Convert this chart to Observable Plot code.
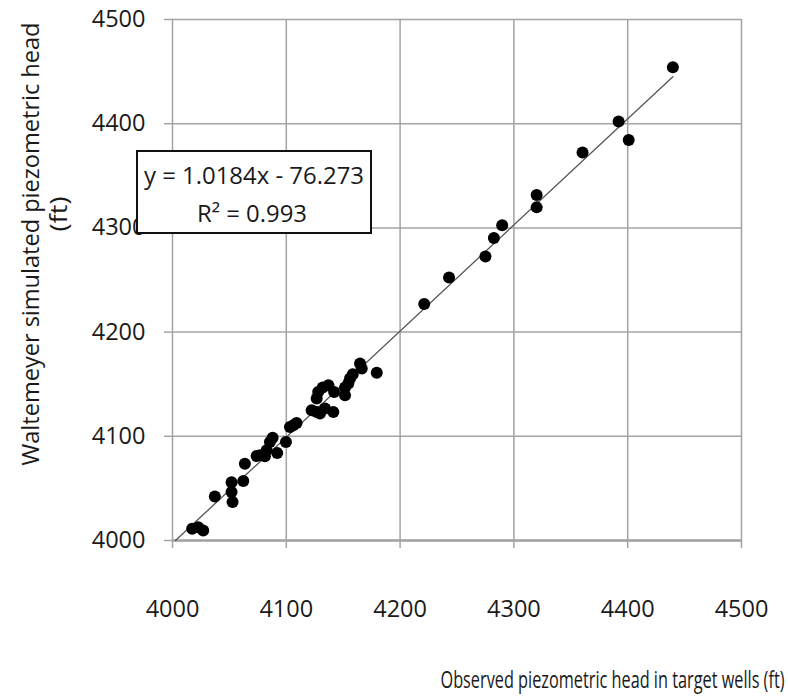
<!DOCTYPE html>
<html><head><meta charset="utf-8">
<script src="https://cdn.jsdelivr.net/npm/d3@7"></script>
<script src="https://cdn.jsdelivr.net/npm/@observablehq/plot@0.6"></script>
<style>
body{margin:0;background:#fff}
#chart{position:relative;width:788px;height:698px}
</style>
</head><body><div id="chart"></div>
<script>
// Observed piezometric head in target wells (ft)
const observed = [
  4017.3, 4022.6, 4027.0, 4037.2, 4051.9, 4051.9, 4052.8, 4062.2, 4063.6, 4073.9,
  4076.8, 4081.2, 4082.7, 4085.6, 4088.0, 4092.0, 4099.7, 4103.2, 4106.2, 4109.0,
  4122.3, 4126.7, 4129.6, 4134.0, 4141.3, 4126.7, 4128.0, 4132.0, 4137.0, 4142.0,
  4151.6, 4151.6, 4154.5, 4156.0, 4158.4, 4164.8, 4166.3, 4179.5,
  4221.2, 4243.0, 4275.0, 4282.4, 4289.7, 4320.0, 4320.0, 4360.3, 4392.0, 4400.9, 4439.7
];
// Waltemeyer simulated piezometric head (ft)
const simulated = [
  4011.2, 4012.8, 4009.6, 4042.3, 4056.0, 4046.5, 4036.9, 4057.0, 4073.7, 4081.0,
  4081.7, 4080.8, 4086.5, 4094.6, 4098.7, 4084.0, 4094.6, 4109.0, 4110.6, 4112.8,
  4125.0, 4123.4, 4121.8, 4126.6, 4123.4, 4136.2, 4142.6, 4146.8, 4149.0, 4142.6,
  4139.4, 4146.8, 4150.6, 4155.4, 4159.6, 4169.9, 4165.0, 4160.9,
  4227.0, 4252.5, 4272.6, 4290.4, 4302.5, 4331.5, 4319.7, 4372.3, 4402.2, 4384.4, 4454.1
];
const xTicks = [4000, 4100, 4200, 4300, 4400, 4500];
const yTicks = [4000, 4100, 4200, 4300, 4400, 4500];
const slope = 1.0184, intercept = -76.273, r2 = 0.993;
const xTitle = "Observed piezometric head in target wells (ft)";
const yTitle1 = "Waltemeyer simulated piezometric head";
const yTitle2 = "(ft)";
const eqLine1 = "y = 1.0184x - 76.273";
const eqLine2 = "R\u00b2 = 0.993";

const points = observed.map((x, i) => ({x, y: simulated[i]}));
const yMin = d3.min(yTicks);
const xStart = (yMin - intercept) / slope;
const xEnd = d3.max(observed);
const trend = [xStart, xEnd].map(x => ({x, y: slope * x + intercept}));

const FONT = "'Open Sans', 'Liberation Sans', sans-serif";
const GRID = "#a3a3a3";

const chart = Plot.plot({
  width: 788,
  height: 698,
  marginLeft: 172,
  marginRight: 47,
  marginTop: 19,
  marginBottom: 158,
  style: {fontFamily: FONT, fontSize: "23.5px", color: "#1a1a1a", background: "#fff", overflow: "visible"},
  x: {domain: [4000, 4500]},
  y: {domain: [4000, 4500]},
  marks: [
    Plot.gridX(xTicks, {stroke: GRID, strokeOpacity: 1, strokeWidth: 1.5}),
    Plot.gridY(yTicks, {stroke: GRID, strokeOpacity: 1, strokeWidth: 1.5}),
    Plot.ruleY([yMin], {stroke: GRID, strokeWidth: 2.5}),
    Plot.axisX({ticks: xTicks, tickSize: 8, tickPadding: 52, stroke: GRID, strokeWidth: 1.5, fill: "#1a1a1a",
      tickFormat: d => String(d), label: null, fontSize: 23.5}),
    Plot.axisY({ticks: yTicks, tickSize: 8, tickPadding: 19, stroke: GRID, strokeWidth: 1.5, fill: "#1a1a1a",
      tickFormat: d => String(d), label: null, fontSize: 23.5}),
    Plot.line(trend, {x: "x", y: "y", stroke: "#555", strokeWidth: 1.3}),
    Plot.dot(points, {x: "x", y: "y", r: 6, fill: "#000", stroke: "none"}),
    Plot.text([xTitle], {frameAnchor: "bottom-right", textAnchor: "end", lineAnchor: "bottom",
      dx: 43, dy: 147, fontSize: 23, fill: "#1a1a1a"}),
    Plot.text([yTitle1], {frameAnchor: "left", rotate: -90, textAnchor: "middle", lineAnchor: "bottom",
      dx: -134, dy: -36, fontSize: 24.5, fill: "#1a1a1a"}),
    Plot.text([yTitle2], {frameAnchor: "left", rotate: -90, textAnchor: "middle", lineAnchor: "bottom",
      dx: -106, dy: -66, fontSize: 23, fill: "#1a1a1a"})
  ]
});

const svg = d3.select(chart);
const fit = (str, len) => svg.selectAll("text")
  .filter(function() { return this.textContent === str; })
  .attr("textLength", len).attr("lengthAdjust", "spacingAndGlyphs");
fit(xTitle, 344);
fit(yTitle1, 443);
fit(yTitle2, 35);

// regression equation box (annotation)
const box = svg.append("g").attr("aria-label", "equation");
box.append("rect").attr("x", 137).attr("y", 151).attr("width", 234).attr("height", 82)
  .attr("fill", "#fff").attr("stroke", "#111").attr("stroke-width", 2);
box.append("text").attr("x", 254).attr("y", 184).attr("text-anchor", "middle")
  .attr("font-size", 24).attr("fill", "#1a1a1a").attr("textLength", 220).attr("lengthAdjust", "spacingAndGlyphs")
  .text(eqLine1);
box.append("text").attr("x", 252).attr("y", 222).attr("text-anchor", "middle")
  .attr("font-size", 24).attr("fill", "#1a1a1a").attr("textLength", 110).attr("lengthAdjust", "spacingAndGlyphs")
  .text(eqLine2);

document.getElementById("chart").appendChild(chart);
</script>
</body></html>
